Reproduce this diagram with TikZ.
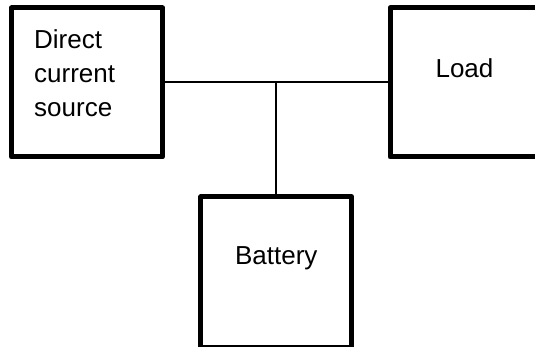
\documentclass[tikz,border=0pt]{standalone}
\usepackage{fontspec}
\setmainfont{Liberation Sans}
\usetikzlibrary{positioning}

\begin{document}
\begin{tikzpicture}[x=1pt,y=-1pt,
  node distance=114.5pt and 227.5pt,
  blockbox/.style={draw,line width=5pt,line join=round,minimum width=151pt,minimum height=149pt,inner sep=0pt,outer sep=0pt},
  lbl/.style={inner sep=0pt,font=\fontsize{26}{34}\selectfont},
  wire/.style={line width=2pt}]
\useasboundingbox (0,0) rectangle (535,347);
\node[blockbox] (dcs) at (87,82.5) {};
\node[blockbox,right=of dcs] (load) {};
\path (dcs.east) -- (load.west) coordinate[midway] (j);
\node[blockbox,minimum height=150pt,below=of j] (bat) {};
\node[lbl,align=left,anchor=north west] (dcstxt) at ([xshift=22.5pt,yshift=-21pt]dcs.north west) {Direct\\current\\source};
\node[lbl,anchor=base] (loadtxt) at ([xshift=-1pt,yshift=-70pt]load.north) {Load};
\node[lbl,anchor=base] (battxt) at ([yshift=-68pt]bat.north) {Battery};
\draw[wire] (dcs.east) -- (load.west);
\draw[wire] (j) -- (bat.north);
\end{tikzpicture}
\end{document}
